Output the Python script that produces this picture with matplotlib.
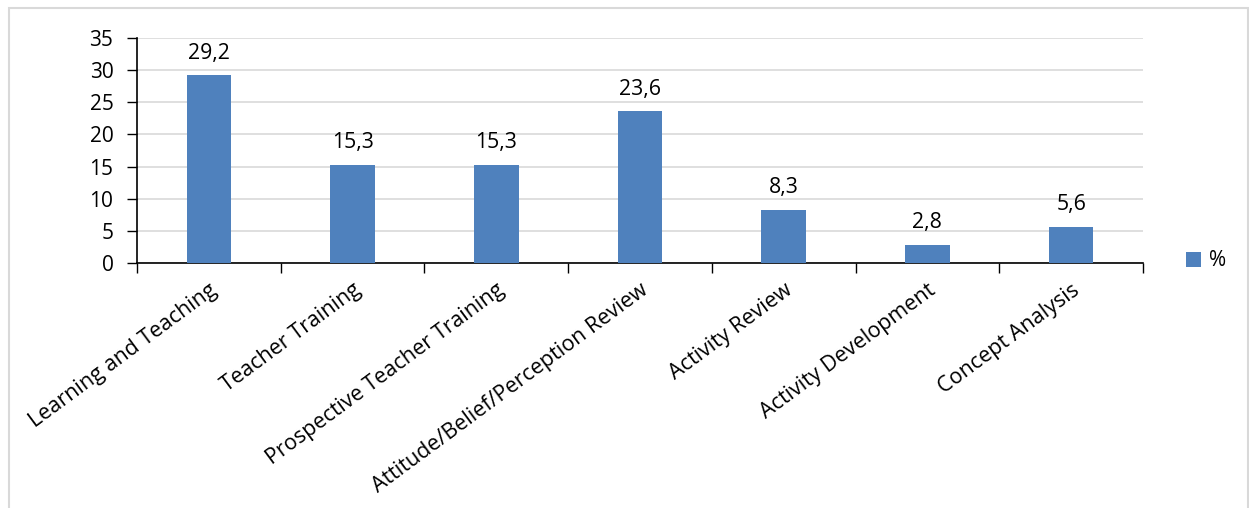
import matplotlib
matplotlib.use("Agg")
import matplotlib.pyplot as plt
from matplotlib.patches import Rectangle

categories = ["Learning and Teaching", "Teacher Training", "Prospective Teacher Training",
              "Attitude/Belief/Perception Review", "Activity Review",
              "Activity Development", "Concept Analysis"]
values = [29.2, 15.3, 15.3, 23.6, 8.3, 2.8, 5.6]
value_labels = ["29,2", "15,3", "15,3", "23,6", "8,3", "2,8", "5,6"]
yticks = [0, 5, 10, 15, 20, 25, 30, 35]

plt.rcParams["font.family"] = ["Open Sans", "DejaVu Sans"]
FS = 15

W, H = 1249, 508
fig = plt.figure(figsize=(W / 100, H / 100), dpi=100)

# outer chart frame
fig.patches.append(Rectangle((9 / W, -0.05), (1248 - 9) / W, (H - 8) / H + 0.05,
                             transform=fig.transFigure, fill=False,
                             edgecolor="#d9d9d9", linewidth=1.5))

ax = fig.add_axes([137 / W, 1 - 263 / H, (1143 - 137) / W, (263 - 38) / H])
x = list(range(len(categories)))
bars = ax.bar(x, values, width=0.31, color="#4f81bd", label="%", zorder=3)

for xi, v, lab in zip(x, values, value_labels):
    ax.text(xi, v + 2.6, lab, ha="center", va="baseline", fontsize=FS + 0.3, color="black")

ax.set_xlim(-0.5, len(categories) - 0.5)
ax.set_ylim(0, 35)
ax.set_yticks(yticks)
ax.set_yticklabels([str(t) for t in yticks], fontsize=FS)
ax.grid(axis="y", color="#d9d9d9", linewidth=1.2, zorder=0)

# category boundary ticks
ax.set_xticks([i - 0.5 for i in range(len(categories) + 1)], minor=False)
ax.set_xticklabels([])
ax.tick_params(axis="x", direction="out", length=7, width=1, color="black")
ax.tick_params(axis="y", direction="out", length=7, width=1, color="black", pad=10)

# category names centred under bars
ax.set_xticks(x, minor=True)
ax.set_xticklabels(categories, minor=True, rotation=36.5, ha="right",
                   rotation_mode="anchor", fontsize=FS + 0.5)
ax.tick_params(axis="x", which="minor", length=0, pad=12)

for side in ["top", "right"]:
    ax.spines[side].set_visible(False)
for side in ["left", "bottom"]:
    ax.spines[side].set_color("black")
    ax.spines[side].set_linewidth(1.2)

fig.legend(handles=[bars], labels=["%"], loc="center left",
           bbox_to_anchor=(1167 / W, 1 - 261 / H), frameon=False,
           fontsize=FS, handlelength=0.72, handleheight=0.72, handletextpad=0.4)

fig.savefig("out.png", dpi=100)
